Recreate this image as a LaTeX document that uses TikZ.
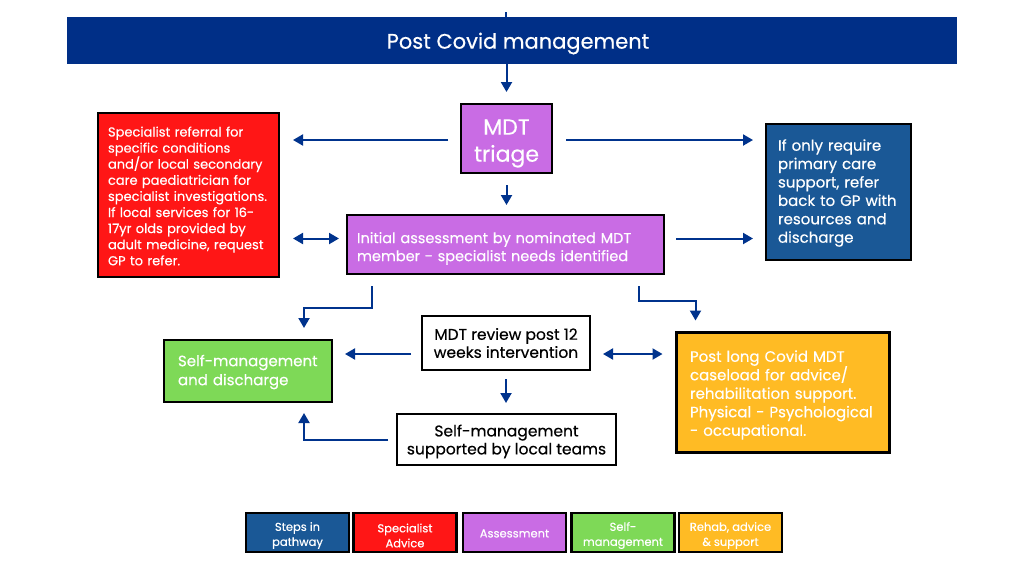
\documentclass[tikz,border=0pt]{standalone}
\usepackage{fontspec}
\setmainfont{Poppins}[FakeBold=0.4]
\usetikzlibrary{arrows.meta}
\definecolor{navy}{RGB}{0,47,135}
\definecolor{arrowblue}{RGB}{0,51,141}
\definecolor{stepblue}{RGB}{26,88,150}
\definecolor{specred}{RGB}{255,22,22}
\definecolor{assesspurple}{RGB}{201,108,228}
\definecolor{selfgreen}{RGB}{126,217,87}
\definecolor{rehaborange}{RGB}{255,187,36}
\tikzset{
  box/.style={draw=black, line width=2pt, inner sep=0pt},
  wbox/.style={box, fill=white},
  boxtext/.style={inner sep=0pt, text=white, font=\fontsize{15}{18.4}\selectfont},
  wtext/.style={boxtext, text=black, align=center, font=\fontsize{15.5}{18}\selectfont},
  legendbox/.style={draw=black, line width=2.5pt, inner sep=0pt,
    minimum width=103pt, minimum height=39pt},
  legendtext/.style={inner sep=0pt, text=white, align=center, font=\fontsize{11.5}{15}\selectfont},
  arr/.style={draw=arrowblue, line width=2pt, -{Triangle[width=11pt,length=10pt]}},
  darr/.style={draw=arrowblue, line width=2pt, {Triangle[width=11pt,length=10pt]}-{Triangle[width=11pt,length=10pt]}},
  plain/.style={draw=arrowblue, line width=2pt}
}
\begin{document}
\begin{tikzpicture}[x=1pt,y=-1pt]
\useasboundingbox[fill=white] (0,0) rectangle (1024,576);

% banner
\coordinate (topend) at (506,12);
\draw[plain] (topend) -- (506,17);
\node[fill=navy, minimum width=890pt, minimum height=47pt, inner sep=0pt] (banner) at (512,40.5) {};
\node[inner sep=0pt, text=white, font=\fontsize{21}{24}\selectfont] (bannertext) at ([xshift=6pt,yshift=-3pt]banner.center) {Post Covid management};

% main nodes
\node[box, fill=assesspurple, minimum width=91pt, minimum height=69pt] (triage) at (506.5,138.5) {};
\node[boxtext, align=center, font=\fontsize{22}{27}\selectfont] (triagetext) at ([yshift=-5pt]triage.center) {MDT\\triage};

\node[box, fill=specred, minimum width=181pt, minimum height=164pt] (red) at (188.5,195) {};
\node[boxtext, text width=161pt, align=left, font=\fontsize{13}{16.1}\selectfont] (redtext) at ([yshift=-1pt]red.center)
  {Specialist referral for\\specific conditions\\and/or local secondary\\care paediatrician for\\specialist investigations.\\If local services for 16-\\17yr olds provided by\\adult medicine, request\\GP to refer.};

\node[box, fill=stepblue, minimum width=145pt, minimum height=136pt] (blue) at (838.5,192) {};
\node[boxtext, text width=121pt, align=left] (bluetext) at ([yshift=-1pt]blue.center)
  {If only require\\primary care\\support, refer\\back to GP with\\resources and\\discharge};

\node[box, fill=assesspurple, minimum width=317pt, minimum height=59pt] (ia) at (505.5,244.5) {};
\node[boxtext, text width=297pt, align=left, font=\fontsize{14.5}{18}\selectfont] (iatext) at ([yshift=-4pt]ia.center)
  {Initial assessment by nominated MDT\\member - specialist needs identified};

\node[box, fill=selfgreen, minimum width=168pt, minimum height=62pt] (green) at (248,371) {};
\node[boxtext, text width=140pt, align=left, font=\fontsize{15}{19}\selectfont] (greentext) at ([yshift=-1pt]green.center)
  {Self-management\\and discharge};

\node[wbox, minimum width=168pt, minimum height=54pt] (review) at (506,343) {};
\node[wtext] (reviewtext) at ([yshift=0pt]review.center) {MDT review post 12\\weeks intervention};

\node[wbox, minimum width=219pt, minimum height=51pt] (supp) at (506.5,439.5) {};
\node[wtext] (supptext) at ([yshift=-2pt]supp.center) {Self-management\\supported by local teams};

\node[box, line width=3pt, fill=rehaborange, minimum width=213pt, minimum height=120pt] (orange) at (782.5,392) {};
\node[boxtext, text width=185pt, align=left, font=\fontsize{15}{18.5}\selectfont] (orangetext) at ([yshift=-3pt]orange.center)
  {Post long Covid MDT\\caseload for advice/\\rehabilitation support.\\Physical - Psychological\\- occupational.};

% connectors
\draw[arr, shorten >=11pt] (banner.south -| triage.north) -- (triage.north);
\draw[arr, shorten <=11pt, shorten >=9pt] (triage.south) -- (triage.south |- ia.north);
\draw[arr, shorten <=12pt, shorten >=13pt] ([yshift=-1.5pt]triage.west) -- ([yshift=-1.5pt]triage.west -| red.east);
\draw[arr, shorten <=13pt, shorten >=12pt] ([yshift=-1.5pt]triage.east) -- ([yshift=-1.5pt]triage.east -| blue.west);
\draw[darr, shorten <=7pt, shorten >=13pt] ([yshift=6pt]ia.west) -- ([yshift=6pt]ia.west -| red.east);
\draw[arr, shorten <=11pt, shorten >=12pt] ([yshift=6pt]ia.east) -- ([yshift=6pt]ia.east -| blue.west);
\draw[arr] ([xshift=26pt,yshift=-11pt]ia.south west) -- ++(0,22) -| ([xshift=56pt,yshift=11pt]green.north);
\draw[arr] ([xshift=-26pt,yshift=-11pt]ia.south east) -- ++(0,15) -| ([xshift=21pt,yshift=10pt]orange.north west);
\draw[arr, shorten <=10pt, shorten >=12pt] ([yshift=-11pt]review.west) -- ([yshift=-11pt]review.west -| green.east);
\draw[darr, shorten <=12pt, shorten >=12pt] ([yshift=-11pt]review.east) -- ([yshift=-11pt]review.east -| orange.west);
\draw[arr, shorten <=8pt, shorten >=10pt] (review.south) -- (review.south |- supp.north);
\draw[arr] ([xshift=-8pt]supp.west) -| ([xshift=56pt,yshift=-10pt]green.south);

% legend
\node[legendbox, fill=stepblue] (l1) at (297.5,532.5) {};
\node[legendbox, fill=specred] (l2) at (405,532.5) {};
\node[legendbox, fill=assesspurple] (l3) at (514.5,532.5) {};
\node[legendbox, fill=selfgreen] (l4) at (623,532.5) {};
\node[legendbox, fill=rehaborange] (l5) at (730.5,532.5) {};
\node[legendtext] (l1t) at ([yshift=-3pt]l1.center) {Steps in\\pathway};
\node[legendtext] (l2t) at ([yshift=-3pt]l2.center) {Specialist\\Advice};
\node[legendtext] (l3t) at ([yshift=-1pt]l3.center) {Assessment};
\node[legendtext] (l4t) at ([yshift=-3pt]l4.center) {Self-\\management};
\node[legendtext] (l5t) at ([yshift=-3pt]l5.center) {Rehab, advice\\\& support};
\end{tikzpicture}
\end{document}
